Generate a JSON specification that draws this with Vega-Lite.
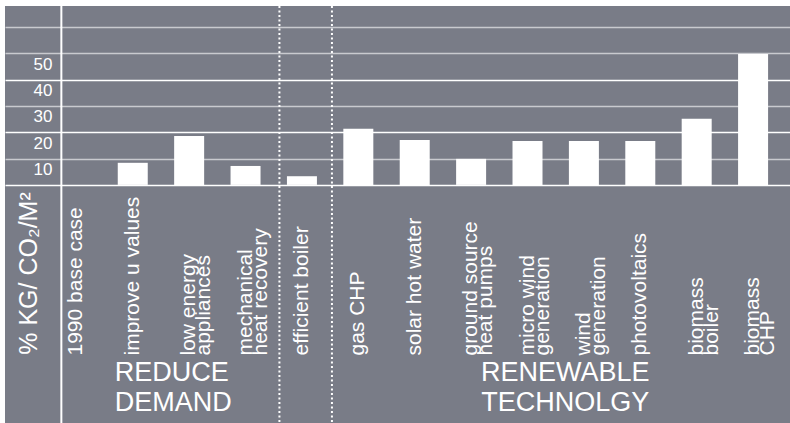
{
  "$schema": "https://vega.github.io/schema/vega-lite/v6.json",
  "width": 785,
  "height": 417,
  "autosize": {"type": "none"},
  "padding": {"left": 5, "top": 6, "right": 0, "bottom": 0},
  "background": "white",
  "config": {
    "view": {"fill": "#797c87", "stroke": null},
    "font": "Liberation Sans"
  },
  "datasets": {
    "bars": [
      {"measure": "1990 base case", "value": 0},
      {"measure": "improve u values", "value": 8.4},
      {"measure": "low energy|appliances", "value": 18.6},
      {"measure": "mechanical|heat recovery", "value": 7.2},
      {"measure": "efficient boiler", "value": 3.3},
      {"measure": "gas CHP", "value": 21.3},
      {"measure": "solar hot water", "value": 17.1},
      {"measure": "ground source|heat pumps", "value": 9.9},
      {"measure": "micro wind|generation", "value": 16.7},
      {"measure": "wind|generation", "value": 16.7},
      {"measure": "photovoltaics", "value": 16.7},
      {"measure": "biomass|boiler", "value": 25.1},
      {"measure": "biomass|CHP", "value": 49.8}
    ]
  },
  "layer": [
    {
      "data": {"name": "bars"},
      "mark": {"type": "bar", "color": "white"},
      "encoding": {
        "x": {
          "field": "measure",
          "type": "nominal",
          "sort": null,
          "scale": {
            "domain": ["1990 base case", "improve u values", "low energy|appliances", "mechanical|heat recovery", "efficient boiler", "gas CHP", "solar hot water", "ground source|heat pumps", "micro wind|generation", "wind|generation", "photovoltaics", "biomass|boiler", "biomass|CHP"],
            "paddingInner": 0.468,
            "paddingOuter": 0.694,
            "align": 0.72
          },
          "axis": {
            "title": null,
            "orient": "bottom",
            "domain": false,
            "ticks": false,
            "grid": false,
            "labelAngle": 270,
            "labelAlign": "left",
            "labelBaseline": "middle",
            "labelPadding": -68,
            "labelColor": "white",
            "labelFontSize": 21,
            "labelLineHeight": 15,
            "labelLimit": 0,
            "labelOverlap": false,
            "labelExpr": "split(datum.label, '|')"
          }
        },
        "y": {
          "field": "value",
          "type": "quantitative",
          "scale": {"domain": [-90.5, 68], "nice": false, "zero": false},
          "axis": {
            "values": [0, 10, 20, 30, 40, 50, 60],
            "domain": false,
            "ticks": false,
            "grid": true,
            "gridColor": {"condition": {"test": "datum.value == 0 || datum.value == 20 || datum.value == 40", "value": "#ffffff"}, "value": "#c9cacf"},
            "gridWidth": 1.5,
            "gridOpacity": 1,
            "labelExpr": "datum.value >= 10 && datum.value <= 50 ? datum.label : ''",
            "labelColor": "white",
            "labelFontSize": 17,
            "labelAlign": "right",
            "labelBaseline": "middle",
            "labelPadding": -47,
            "labelOffset": 11,
            "title": "% KG/ CO₂/M²",
            "titleColor": "white",
            "titleFontSize": 25,
            "titleFontWeight": "normal",
            "titleAngle": 270,
            "titleAlign": "center",
            "titleBaseline": "middle",
            "titleX": 23,
            "titleY": 267
          }
        }
      }
    },
    {
      "data": {"values": [{"at": "1990 base case"}]},
      "mark": {"type": "rule", "color": "white", "strokeWidth": 2},
      "encoding": {"x": {"field": "at", "type": "nominal", "bandPosition": 0}}
    },
    {
      "data": {"values": [{"at": "efficient boiler"}]},
      "mark": {"type": "rule", "color": "white", "strokeWidth": 2, "strokeDash": [2, 2.5]},
      "encoding": {"x": {"field": "at", "type": "nominal", "bandPosition": -0.25}}
    },
    {
      "data": {"values": [{"at": "efficient boiler"}]},
      "mark": {"type": "rule", "color": "white", "strokeWidth": 2, "strokeDash": [2, 2.5]},
      "encoding": {"x": {"field": "at", "type": "nominal", "bandPosition": 1.5}}
    },
    {
      "data": {"values": [
        {"group": "REDUCE", "at": "improve u values", "v": -71.5},
        {"group": "DEMAND", "at": "improve u values", "v": -83}
      ]},
      "mark": {"type": "text", "color": "white", "fontSize": 27, "align": "left", "baseline": "middle"},
      "encoding": {
        "x": {"field": "at", "type": "nominal", "bandPosition": -0.1},
        "y": {"field": "v", "type": "quantitative"},
        "text": {"field": "group"}
      }
    },
    {
      "data": {"values": [
        {"group": "RENEWABLE", "at": "wind|generation", "v": -71.5},
        {"group": "TECHNOLGY", "at": "wind|generation", "v": -83}
      ]},
      "mark": {"type": "text", "color": "white", "fontSize": 27, "align": "center", "baseline": "middle"},
      "encoding": {
        "x": {"field": "at", "type": "nominal", "bandPosition": -0.12},
        "y": {"field": "v", "type": "quantitative"},
        "text": {"field": "group"}
      }
    }
  ]
}
